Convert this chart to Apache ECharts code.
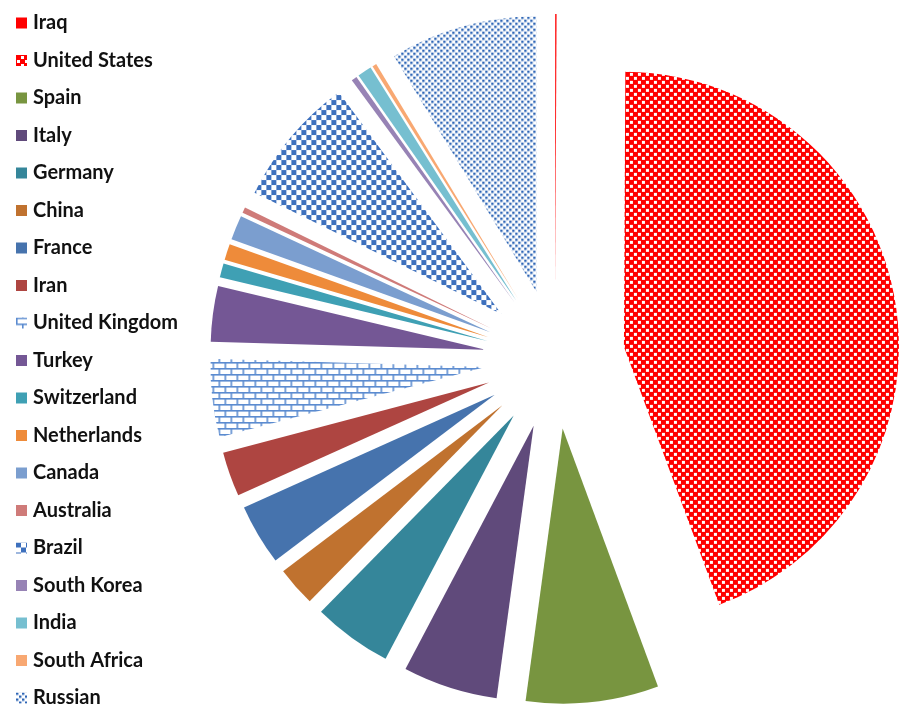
<!DOCTYPE html>
<html>
<head>
<meta charset="utf-8">
<script src="https://cdn.jsdelivr.net/npm/echarts@6/dist/echarts.min.js"></script>
<style>
html,body{margin:0;padding:0;background:#fff;}
#chart{width:899px;height:706px;}
</style>
</head>
<body>
<div id="chart"></div>
<script>
// Data (percent share)
const categories = ['Iraq','United States','Spain','Italy','Germany','China','France','Iran','United Kingdom','Turkey','Switzerland','Netherlands','Canada','Australia','Brazil','South Korea','India','South Africa','Russian'];
const values = [0.08, 44.25, 7.78, 5.56, 4.64, 2.33, 3.58, 2.61, 4.58, 3.25, 0.83, 0.94, 1.44, 0.33, 7.67, 0.33, 0.83, 0.25, 8.64];

function makeTile(w, h, draw) {
  const c = document.createElement('canvas');
  c.width = w; c.height = h;
  const g = c.getContext('2d');
  draw(g);
  return { image: c, repeat: 'repeat' };
}
const usPattern = makeTile(8, 8, g => {
  g.fillStyle = '#ff0000'; g.fillRect(0, 0, 8, 8);
  g.fillStyle = '#ffffff'; g.fillRect(5, 1, 3, 3); g.fillRect(1, 5, 3, 3);
});
const brazilPattern = makeTile(10, 10, g => {
  g.fillStyle = '#ffffff'; g.fillRect(0, 0, 10, 10);
  g.fillStyle = '#3d70bd'; g.fillRect(0, 0, 5, 5); g.fillRect(5, 5, 5, 5);
});
const ukPattern = makeTile(12, 12, g => {
  g.fillStyle = '#ffffff'; g.fillRect(0, 0, 12, 12);
  g.fillStyle = '#5b8bd0';
  g.fillRect(0, 0, 12, 1.6); g.fillRect(0, 6, 12, 1.6);
  g.fillRect(0, 0, 1.6, 6); g.fillRect(6, 6, 1.6, 6);
});
const russianPattern = makeTile(6, 6, g => {
  g.fillStyle = '#ffffff'; g.fillRect(0, 0, 6, 6);
  g.fillStyle = '#2f66b6';
  g.fillRect(0, 0, 2.4, 2.4); g.fillRect(3, 3, 2.4, 2.4);
});

const colors = ['#ff0000', usPattern, '#789540', '#604a7b', '#35869a', '#c0722f', '#4673ad', '#ae4541',
  ukPattern, '#745795', '#3fa0b4', '#ee8b3a', '#7b9ecf', '#cf7b79', brazilPattern, '#9783b5', '#76bfd0', '#f8a872', russianPattern];

// fit legend font to the reference text width
const mc = document.createElement('canvas').getContext('2d');
mc.font = 'bold 18px Lato';
let fs = 18 * 145 / mc.measureText('United Kingdom').width;
fs = Math.max(15, Math.min(20, fs));

const data = categories.map((name, i) => ({
  name, value: values[i], selected: true,
  itemStyle: { color: colors[i] }
}));

const chart = echarts.init(document.getElementById('chart'), null, { renderer: 'canvas' });
chart.setOption({
  animation: false,
  backgroundColor: '#ffffff',
  legend: {
    orient: 'vertical', left: 16, top: 13, padding: 0, height: 700,
    icon: 'rect',
    itemWidth: 11, itemHeight: 11, itemGap: 17.5,
    selectedMode: false,
    textStyle: { fontFamily: 'Lato', fontWeight: 'bold', fontSize: fs, lineHeight: 18, color: '#111', padding: [0, 0, 0, 1] },
    data: categories
  },
  series: [{
    type: 'pie',
    center: [555, 359],
    radius: 275,
    startAngle: 90,
    clockwise: true,
    selectedMode: 'multiple',
    selectedOffset: 70,
    label: { show: false },
    labelLine: { show: false },
    itemStyle: { borderWidth: 0 },
    emphasis: { disabled: true, scale: false },
    data
  }]
});
</script>
</body>
</html>
